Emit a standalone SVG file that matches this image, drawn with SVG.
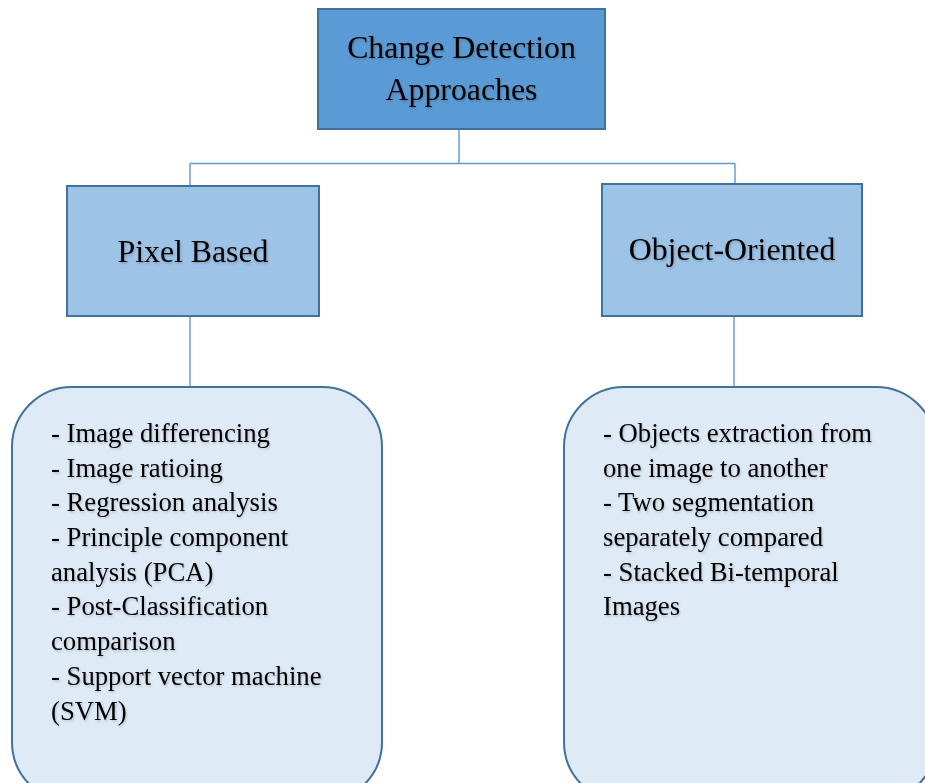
<svg xmlns="http://www.w3.org/2000/svg" width="925" height="783" viewBox="0 0 925 783">
<defs>
<style>
.box{stroke:#41719C;stroke-width:2}
.top{fill:#5B9BD5}
.mid{fill:#9DC3E6}
.list{fill:#DEEBF7}
.conn{stroke:#5B9BD5;stroke-width:1.4;fill:none}
text{font-family:"Liberation Serif","Times New Roman",serif;fill:#000;filter:url(#sh)}
.h{font-size:31.8px}
.l{font-size:26.7px}
</style>
<filter id="sh" x="-5%" y="-20%" width="110%" height="140%">
<feDropShadow dx="1" dy="1.5" stdDeviation="1" flood-color="#000" flood-opacity="0.2"/>
</filter>
</defs>
<rect width="925" height="783" fill="#fff"/>
<g id="connectors">
<path class="conn" d="M459 129V163.5M190 163.5H735M190 163.5V186M735 163.5V184"/>
<path class="conn" d="M190 316V387M734 316V387"/>
</g>
<g id="root">
<rect class="box top" x="318" y="9" width="287" height="120"/>
<text class="h" x="461.5" y="58" text-anchor="middle">Change Detection</text>
<text class="h" x="461.5" y="100" text-anchor="middle">Approaches</text>
</g>
<g id="pixel">
<rect class="box mid" x="67" y="186" width="252" height="130"/>
<text class="h" x="193" y="262" text-anchor="middle">Pixel Based</text>
</g>
<g id="object">
<rect class="box mid" x="602" y="184" width="260" height="132"/>
<text class="h" x="732" y="260" text-anchor="middle">Object-Oriented</text>
</g>
<g id="pixel-list">
<rect class="box list" x="12" y="387" width="370" height="415" rx="60" ry="60"/>
<text class="l" x="51" y="442">- Image differencing</text>
<text class="l" x="51" y="477">- Image ratioing</text>
<text class="l" x="51" y="511">- Regression analysis</text>
<text class="l" x="51" y="546">- Principle component</text>
<text class="l" x="51" y="581">analysis (PCA)</text>
<text class="l" x="51" y="615">- Post-Classification</text>
<text class="l" x="51" y="650">comparison</text>
<text class="l" x="51" y="685">- Support vector machine</text>
<text class="l" x="51" y="720">(SVM)</text>
</g>
<g id="object-list">
<rect class="box list" x="564" y="387" width="372" height="415" rx="60" ry="60"/>
<text class="l" x="603" y="442">- Objects extraction from</text>
<text class="l" x="603" y="477">one image to another</text>
<text class="l" x="603" y="511">- Two segmentation</text>
<text class="l" x="603" y="546">separately compared</text>
<text class="l" x="603" y="581">- Stacked Bi-temporal</text>
<text class="l" x="603" y="615">Images</text>
</g>
</svg>
